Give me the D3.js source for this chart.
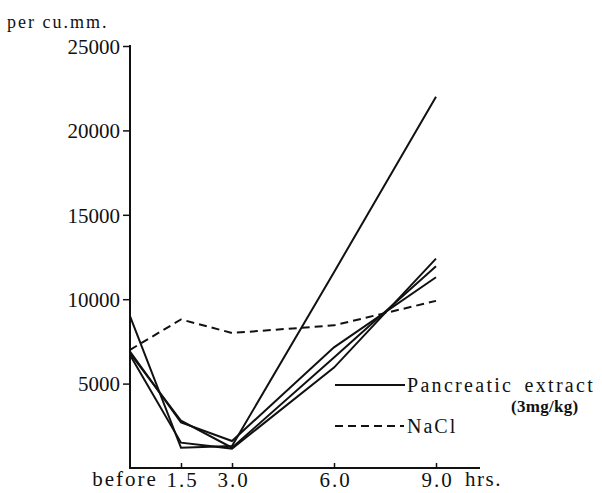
<!DOCTYPE html>
<html><head><meta charset="utf-8">
<script src="https://cdn.jsdelivr.net/npm/d3@7"></script>
<style>
body{margin:0;background:#fff;}
svg text{font-family:"Liberation Serif","Times New Roman","DejaVu Serif",serif !important;fill:#111;}
</style></head>
<body><svg id="c" width="602" height="493"></svg>
<script>
const hours = [0, 1.5, 3.0, 6.0, 9.0];
const xTickLabels = ["before", "1.5", "3.0", "6.0", "9.0"];
const yTicks = [5000, 10000, 15000, 20000, 25000];
const pancreatic1 = [9000, 1200, 1300, 11600, 22000];
const pancreatic2 = [6900, 2700, 1600, 7150, 11300];
const pancreatic3 = [6800, 2800, 1200, 6550, 11950];
const pancreatic4 = [6700, 1500, 1150, 5950, 12400];
const nacl = [7000, 8800, 8000, 8450, 9900];

const serif = '"Liberation Serif","Times New Roman","DejaVu Serif",serif';
const svg = d3.select("#c");
const x = d3.scaleLinear().domain([0, 9]).range([130, 436]);
const y = d3.scaleLinear().domain([0, 25000]).range([468, 46]);

// y axis
const ya = svg.append("g").attr("transform", "translate(130,0)")
  .call(d3.axisLeft(y).tickValues(yTicks).tickFormat(d3.format("d")).tickSize(7).tickSizeOuter(0).tickPadding(3));
ya.attr("font-family", serif).attr("font-size", null);
ya.select(".domain").attr("d", `M0,${y(25000)-1}V${y(0)+1}`).attr("stroke", "#111").attr("stroke-width", 2);
ya.selectAll(".tick line").attr("stroke", "#111").attr("stroke-width", 1.5);
ya.selectAll(".tick text").style("font-family", serif).style("font-size", "21px").attr("dy", "0.35em");

// x axis
const xa = svg.append("g").attr("transform", `translate(0,${y(0)})`)
  .call(d3.axisBottom(x).tickValues(hours.slice(1)).tickSize(-5).tickSizeOuter(0)
    .tickFormat((d) => xTickLabels[hours.indexOf(d)]).tickPadding(4));
xa.attr("font-family", serif).attr("font-size", null);
xa.select(".domain").attr("d", `M${x(0)-1},0H480`).attr("stroke", "#111").attr("stroke-width", 2);
xa.selectAll(".tick line").attr("stroke", "#111").attr("stroke-width", 1.5);
xa.selectAll(".tick text").style("font-family", serif).style("font-size", "21px")
  .style("letter-spacing", "2px").attr("dx", "1px");

function label(xp, yp, txt, size, ls, anchor) {
  return svg.append("text").attr("x", xp).attr("y", yp).attr("text-anchor", anchor || "start")
    .style("font-family", serif).style("font-size", size + "px").style("letter-spacing", ls + "px").text(txt);
}
label(x(0) - 5, 486, xTickLabels[0], 21, 2, "middle");
label(465, 486, "hrs.", 21, 1.5);
label(7, 28, "per cu.mm.", 18, 2);

const line = d3.line().x((d, i) => x(hours[i])).y(d => y(d));
[pancreatic1, pancreatic2, pancreatic3, pancreatic4].forEach(s => {
  svg.append("path").datum(s).attr("d", line).attr("fill", "none")
    .attr("stroke", "#111").attr("stroke-width", 2).attr("stroke-linejoin", "miter");
});
svg.append("path").datum(nacl).attr("d", line).attr("fill", "none")
  .attr("stroke", "#111").attr("stroke-width", 2).attr("stroke-dasharray", "8,5");

// legend
svg.append("line").attr("x1", 335).attr("x2", 405).attr("y1", 385).attr("y2", 385)
  .attr("stroke", "#111").attr("stroke-width", 2);
label(407, 392, "Pancreatic extract", 20, 2.3).style("word-spacing", "4px");
label(511, 412, "(3mg/kg)", 17, 0.3).style("font-weight", "bold");
svg.append("line").attr("x1", 335).attr("x2", 404).attr("y1", 426).attr("y2", 426)
  .attr("stroke", "#111").attr("stroke-width", 2).attr("stroke-dasharray", "8,5");
label(407, 433, "NaCl", 20, 2);
</script></body></html>
